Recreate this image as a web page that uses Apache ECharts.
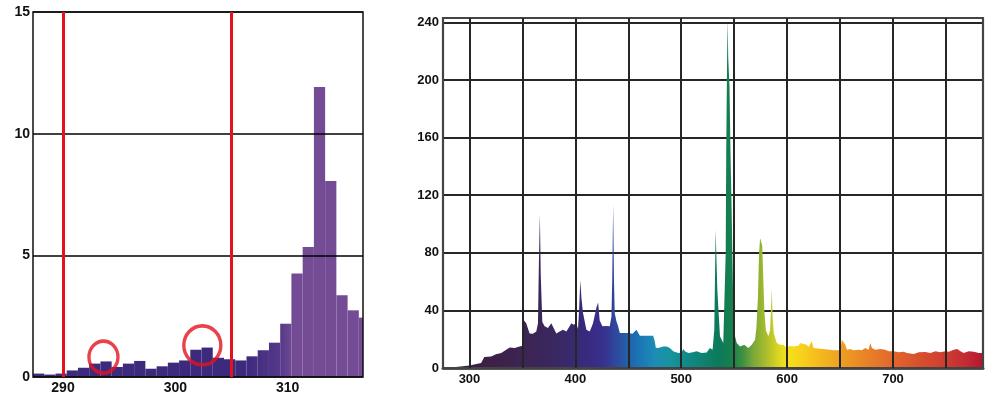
<!DOCTYPE html>
<html>
<head>
<meta charset="utf-8">
<script src="https://cdn.jsdelivr.net/npm/echarts@6/dist/echarts.min.js"></script>
<style>
    html, body { margin: 0; padding: 0; background: #fff; }
    #chart { width: 993px; height: 397px; }
</style>
</head>
<body>
<div id="chart"></div>
<script>
// left panel: 1 nm bins (bin centres)
var binCenters = [287.83, 288.83, 289.83, 290.83, 291.83, 292.83, 293.83, 294.83, 295.83, 296.83,
    297.83, 298.83, 299.83, 300.83, 301.83, 302.83, 303.83, 304.83, 305.83, 306.83,
    307.83, 308.83, 309.83, 310.83, 311.83, 312.83, 313.83, 314.83, 315.83, 316.83];
var binValues = [0.14, 0.10, 0.14, 0.27, 0.38, 0.55, 0.64, 0.41, 0.55, 0.66, 0.34, 0.44, 0.59, 0.68, 1.12,
    1.21, 0.79, 0.73, 0.68, 0.85, 1.10, 1.41, 2.19, 4.25, 5.34, 11.92, 8.05, 3.36, 2.74, 2.44];
var binWidth = 1;
var redLines = [290, 305];
var circleSpots = [[293.6, 0.82], [302.4, 1.30]];
var leftXLabels = [290, 300, 310];
var leftYLabels = [0, 5, 10, 15];

// right panel: spectrum
var waveLength = [275, 285, 300, 311, 312.6, 314, 320.5, 325, 330, 334.7, 338, 342.6, 347.3, 350,
    351, 353.6, 356.8, 359.9, 363.1, 364.7, 365.5, 366.5, 367.3, 368.8, 371, 374.1, 377.3, 378.9,
    382, 385.2, 388.3, 391.5, 394.6, 396.2, 398.4, 400.9, 402.5, 403.5, 404.7, 405.8, 407.3, 410.4,
    413.6, 416.7, 419.9, 421.5, 423, 425.6, 429.3, 432.5, 434.1, 434.8, 435.7, 436.5, 437.2, 438.8,
    440.4, 442, 450, 451.4, 454, 457.7, 459.3, 461, 467, 473.5, 475, 476, 478.2, 483, 486.1,
    489.3, 492.4, 497.2, 500.3, 502, 503.5, 506.7, 509.8, 514.5, 519.2, 524, 527.1, 529.6, 531.2,
    532.5, 534.1, 536.6, 539.7, 541.5, 542, 542.5, 543.3, 543.8, 544.4, 545.6, 546.5, 547.6, 549,
    550.8, 552.4, 555.5, 559.5, 563.4, 566.6, 569.7, 571, 572.5, 573.5, 574.5, 575.5, 576.5, 577.6,
    578.5, 580, 582.3, 583.9, 585, 585.5, 586.3, 587.5, 590.2, 593.4, 596.5, 599.7, 602.8, 606,
    610.7, 612.3, 614, 615.5, 618.6, 620.2, 621.8, 623.3, 624.9, 631.2, 640.7, 642.3, 643.9, 650.2,
    651.7, 653.3, 654.9, 656.5, 659.6, 662.8, 667.5, 670.7, 673.8, 677, 678.5, 680.1, 683.3, 688,
    692.7, 695.9, 700.6, 705.4, 710, 713.2, 719.6, 724.3, 730.6, 735.3, 740.1, 744.8, 749.5, 752.7,
    757.4, 760.6, 763.7, 766.9, 771.6, 776.4, 781.1, 785];
var intensity = [0, 0.6, 1.8, 3.5, 2.2, 7.6, 8, 9.6, 10.4, 12.7, 14.3, 13.9, 15, 15.5,
    33.5, 31, 24, 23.8, 25.4, 31, 70, 107, 65, 32, 29, 27.7, 31, 31.5,
    24, 25.4, 26.6, 25.4, 29, 31, 30, 31, 27, 40, 61, 48, 38, 26.6,
    25.4, 31, 42, 45.5, 33, 28.9, 29.2, 28.9, 35.8, 60, 113.5, 60, 38, 32.4,
    29, 24.3, 24.3, 23.1, 23.8, 26.6, 25.4, 22.4, 22.4, 22.4, 18.5, 14, 13.9, 15, 15,
    13.9, 11.6, 10.4, 10.8, 13.2, 11.6, 10.4, 10.8, 11.6, 10.4, 10.8, 13.9, 12.7, 26.6,
    96, 54, 22, 17.3, 18, 80, 150, 215, 242, 215, 195, 150, 110, 50,
    22, 17.3, 15, 16.2, 13.9, 16.2, 19.6, 28, 50, 80, 90, 91, 85, 60,
    40, 26, 22, 26, 45, 55.5, 35, 24, 17.3, 16.2, 16.2, 13.9, 15.5, 15,
    15.5, 17.3, 18.5, 16.6, 16.2, 14.6, 15.5, 18.5, 13.9, 13.4, 12.7, 13.9, 12.3, 12.3,
    19.6, 20.8, 16.2, 12.7, 13.2, 12.3, 12.7, 12.3, 13.9, 12.7, 17.3, 13.9, 12.7, 13.2,
    12.7, 11.6, 11.6, 10.9, 11.3, 10.4, 9.7, 10.9, 11.1, 10.4, 11.6, 10.9, 11.6, 11.3,
    12.7, 13.2, 11.6, 10.4, 11.6, 11.3, 10.4, 10.4];
var rightXLabels = [300, 400, 500, 600, 700];
var rightXGrid = [300, 350, 400, 450, 500, 550, 600, 650, 700, 750];
var rightYLabels = [0, 40, 80, 120, 160, 200, 240];

// spectrum colours along the wavelength
var spectrumColors = [
    [275, '#3a1d42'], [320, '#3c2048'], [350, '#3d2452'], [380, '#3a2860'], [400, '#372a72'],
    [415, '#392a84'], [428, '#36338f'], [440, '#2c4c9f'], [450, '#2260aa'], [462, '#1a78b6'],
    [475, '#1d8cb4'], [490, '#18949f'], [505, '#128a88'], [520, '#0f8272'], [535, '#0b7a5c'],
    [548, '#17804c'], [558, '#3f9044'], [568, '#7aa838'], [580, '#aabc2c'], [590, '#d4d224'],
    [600, '#f6e11c'], [615, '#f7cf1c'], [635, '#f3b41e'], [655, '#ee9a22'], [675, '#e98228'],
    [700, '#e2662c'], [725, '#d8502e'], [750, '#cd3c30'], [770, '#c22a32'], [785, '#b51530']
];

var leftMin = 287.33, leftMax = 316.7;
var rightMin = 275, rightMax = 785;
var red = '#e3131e';
var labelFont = {fontFamily: 'Liberation Sans, Arial, sans-serif', fontWeight: 'bold', color: '#111'};

function inList(list) {
    return function (v) {
        for (var i = 0; i < list.length; i++) {
            if (Math.abs(list[i] - v) < 1e-6) return String(list[i]);
        }
        return '';
    };
}

var bins = binCenters.map(function (x, i) { return [x, binValues[i]]; });
var spectrum = waveLength.map(function (x, i) { return [x, intensity[i]]; });
var stops = spectrumColors.map(function (s) {
    return {offset: (s[0] - rightMin) / (rightMax - rightMin), color: s[1]};
});

// histogram bars, clipped to the plot box
function renderBin(params, api) {
    var x = api.value(0), y = api.value(1);
    var p0 = api.coord([x - binWidth / 2, y]);
    var p1 = api.coord([x + binWidth / 2, 0]);
    var cs = params.coordSys;
    var shape = echarts.graphic.clipRectByRect(
        {x: p0[0], y: p0[1], width: p1[0] - p0[0], height: p1[1] - p0[1]},
        {x: cs.x, y: cs.y, width: cs.width, height: cs.height}
    );
    if (!shape) return;
    var g0 = api.coord([306.3, 0])[0];
    var g1 = api.coord([310.6, 0])[0];
    return {
        type: 'rect',
        shape: shape,
        style: {
            fill: new echarts.graphic.LinearGradient(g0, 0, g1, 0, [
                {offset: 0, color: '#3d2a7c'},
                {offset: 0.7, color: '#55388a'},
                {offset: 1, color: '#744c95'}
            ], true)
        }
    };
}

var chart = echarts.init(document.getElementById('chart'));

var option = {
    animation: false,
    grid: [
        {left: 33, top: 12, width: 330, height: 365, show: true, borderColor: '#111', borderWidth: 1.5, z: 4},
        {left: 443, top: 18, width: 540, height: 350, show: true, borderColor: '#444', borderWidth: 2.2, z: 4}
    ],
    xAxis: [
        {
            gridIndex: 0, type: 'value', min: leftMin, max: leftMax, splitNumber: 3, z: 3,
            axisLine: {show: false}, axisTick: {show: false}, splitLine: {show: false},
            axisLabel: Object.assign({fontSize: 14, margin: 4, formatter: inList(leftXLabels)}, labelFont)
        },
        {
            gridIndex: 1, type: 'value', min: rightMin, max: rightMax, interval: 25, z: 3,
            axisLine: {show: true, lineStyle: {color: '#555', width: 3}},
            axisTick: {show: false}, splitLine: {show: false},
            axisLabel: Object.assign({fontSize: 13, margin: 5, formatter: inList(rightXLabels)}, labelFont)
        }
    ],
    yAxis: [
        {
            gridIndex: 0, type: 'value', min: 0, max: 15, interval: 5, z: 3,
            axisLine: {show: false}, axisTick: {show: false},
            splitLine: {show: true, lineStyle: {color: '#000', width: 1.5}},
            axisLabel: Object.assign({fontSize: 14, margin: 3, formatter: inList(leftYLabels)}, labelFont)
        },
        {
            gridIndex: 1, type: 'value', min: 0, max: 243, interval: 40, z: 3,
            axisLine: {show: false}, axisTick: {show: false},
            splitLine: {show: true, lineStyle: {color: '#262626', width: 2}},
            axisLabel: Object.assign({fontSize: 13, margin: 4, formatter: inList(rightYLabels)}, labelFont)
        }
    ],
    series: [
        {
            type: 'custom',
            xAxisIndex: 0, yAxisIndex: 0,
            renderItem: renderBin,
            encode: {x: 0, y: 1},
            data: bins,
            silent: true
        },
        {
            type: 'scatter',
            xAxisIndex: 0, yAxisIndex: 0,
            z: 10,
            data: circleSpots,
            symbol: 'circle',
            symbolSize: function (val, params) { return params.dataIndex === 0 ? [29, 32] : [37, 39]; },
            itemStyle: {color: 'rgba(0,0,0,0)', borderColor: red, borderWidth: 3.5},
            emphasis: {disabled: true},
            markLine: {
                silent: true, z: 5,
                symbol: ['none', 'none'],
                label: {show: false},
                lineStyle: {color: red, width: 3, type: 'solid'},
                data: redLines.map(function (v) { return {xAxis: v}; })
            }
        },
        {
            type: 'line',
            xAxisIndex: 1, yAxisIndex: 1,
            data: spectrum,
            showSymbol: false,
            lineStyle: {width: 0},
            areaStyle: {opacity: 1, color: new echarts.graphic.LinearGradient(0, 0, 1, 0, stops)},
            emphasis: {disabled: true},
            markLine: {
                silent: true, z: 5,
                symbol: ['none', 'none'],
                label: {show: false},
                lineStyle: {color: '#262626', width: 2, type: 'solid'},
                data: rightXGrid.map(function (v) { return {xAxis: v}; })
            }
        }
    ]
};

chart.setOption(option);
</script>
</body>
</html>
